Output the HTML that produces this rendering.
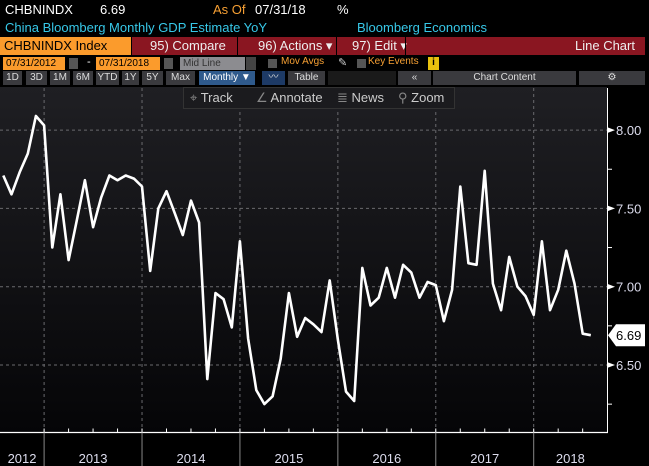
<!DOCTYPE html>
<html><head><meta charset="utf-8">
<style>
*{margin:0;padding:0;box-sizing:border-box}
body{width:649px;height:466px;background:#000;overflow:hidden;font-family:"Liberation Sans",sans-serif;position:relative}
.a{position:absolute;white-space:nowrap}
.t13{font-size:13px}
.btn{position:absolute;top:71px;height:14px;background:#3a3a3e;color:#ddd;font-size:10px;text-align:center;line-height:14px}
</style></head><body>
<div class="a t13" style="left:5px;top:2px;color:#fff">CHBNINDX</div>
<div class="a t13" style="left:100px;top:2px;color:#fff">6.69</div>
<div class="a t13" style="left:213px;top:2px;color:#f7a033">As Of</div>
<div class="a t13" style="left:255px;top:2px;color:#fff">07/31/18</div>
<div class="a t13" style="left:337px;top:2px;color:#fff">%</div>
<div class="a t13" style="left:5px;top:20px;color:#37c8e8">China Bloomberg Monthly GDP Estimate YoY</div>
<div class="a t13" style="left:357px;top:20px;color:#37c8e8">Bloomberg Economics</div>

<div class="a t13" style="left:0;top:37px;width:131px;height:18px;background:#fb9b2c;color:#000;padding-left:4px;line-height:18px">CHBNINDX Index</div>
<div class="a" style="left:132px;top:37px;width:513px;height:18px;background:#8a1621"></div>
<div class="a t13" style="left:150px;top:38px;color:#eee">95) Compare</div>
<div class="a" style="left:237px;top:37px;width:1px;height:18px;background:#000"></div>
<div class="a t13" style="left:258px;top:38px;color:#eee">96) Actions ▾</div>
<div class="a" style="left:336px;top:37px;width:1px;height:18px;background:#000"></div>
<div class="a t13" style="left:352px;top:38px;color:#eee">97) Edit ▾</div>
<div class="a" style="left:405px;top:37px;width:1px;height:18px;background:#000"></div>
<div class="a t13" style="left:575px;top:38px;color:#eee">Line Chart</div>

<div class="a" style="left:3px;top:57px;width:62px;height:13px;background:#fb9b2c;color:#000;font-size:10px;line-height:13px;padding-left:3px">07/31/2012</div>
<div class="a" style="left:69px;top:58px;width:9px;height:11px;background:#555"></div>
<div class="a" style="left:87px;top:56px;color:#fff;font-size:11px">-</div>
<div class="a" style="left:96px;top:57px;width:64px;height:13px;background:#fb9b2c;color:#000;font-size:10px;line-height:13px;padding-left:3px">07/31/2018</div>
<div class="a" style="left:164px;top:58px;width:9px;height:11px;background:#555"></div>
<div class="a" style="left:180px;top:57px;width:65px;height:13px;background:#8c8c90;color:#333;font-size:10px;line-height:13px;padding-left:3px">Mid Line</div>
<div class="a" style="left:246px;top:57px;width:10px;height:13px;background:#444"></div>
<div class="a" style="left:268px;top:59px;width:9px;height:9px;background:#555"></div>
<div class="a" style="left:281px;top:56px;color:#f7a033;font-size:10px">Mov Avgs</div>
<div class="a" style="left:338px;top:56px;color:#ccc;font-size:11px">✎</div>
<div class="a" style="left:357px;top:59px;width:9px;height:9px;background:#555"></div>
<div class="a" style="left:368px;top:56px;color:#f7a033;font-size:10px">Key Events</div>
<div class="a" style="left:428px;top:57px;width:11px;height:13px;background:#e8c20e;color:#000;font-size:10px;text-align:center;font-weight:bold">i</div>

<div class="btn" style="left:3px;width:19px">1D</div>
<div class="btn" style="left:26px;width:21px">3D</div>
<div class="btn" style="left:50px;width:20px">1M</div>
<div class="btn" style="left:73px;width:20px">6M</div>
<div class="btn" style="left:96px;width:23px">YTD</div>
<div class="btn" style="left:122px;width:17px">1Y</div>
<div class="btn" style="left:142px;width:21px">5Y</div>
<div class="btn" style="left:166px;width:29px">Max</div>
<div class="btn" style="left:199px;width:56px;background:#2f5a8c;color:#fff">Monthly ▼</div>
<div class="btn" style="left:262px;width:23px;background:#1d3a66">〰</div>
<div class="btn" style="left:288px;width:37px">Table</div>
<div class="btn" style="left:328px;width:68px;background:#1a1a1a"></div>
<div class="btn" style="left:398px;width:33px">«</div>
<div class="btn" style="left:433px;width:143px">Chart Content</div>
<div class="btn" style="left:579px;width:66px">⚙</div>

<svg class="a" style="left:0;top:0" width="649" height="466" id="chart">
<defs><linearGradient id="bg" x1="0" y1="0" x2="0" y2="1"><stop offset="0" stop-color="#1f1f23"/><stop offset="1" stop-color="#050507"/></linearGradient></defs>
<rect x="0" y="87" width="607" height="346" fill="url(#bg)"/>
<g id="grid"></g><g id="axes"></g>
<path id="line" fill="none" stroke="#fff" stroke-width="2.6" stroke-linejoin="round"/>
<g id="lbl"></g>
</svg>

<div class="a" style="left:183px;top:87px;width:272px;height:22px;background:#1b1b1e;border:1px solid #333"></div>
<div class="a t13" style="left:190px;top:90px;color:#ccc"><span style="color:#888">⌖</span> Track</div>
<div class="a t13" style="left:256px;top:90px;color:#ccc"><span style="color:#888">∠</span> Annotate</div>
<div class="a t13" style="left:337px;top:90px;color:#ccc"><span style="color:#888">≣</span> News</div>
<div class="a t13" style="left:398px;top:90px;color:#ccc"><span style="color:#888">⚲</span> Zoom</div>

<script>
const values=[7.71,7.59,7.73,7.85,8.09,8.03,7.25,7.59,7.17,7.42,7.68,7.38,7.57,7.71,7.68,7.71,7.69,7.64,7.10,7.50,7.61,7.47,7.33,7.55,7.41,6.41,6.96,6.92,6.74,7.29,6.67,6.34,6.25,6.30,6.54,6.96,6.68,6.80,6.76,6.71,7.04,6.66,6.33,6.27,7.12,6.88,6.93,7.12,6.93,7.14,7.09,6.93,7.03,7.01,6.78,6.98,7.64,7.15,7.14,7.74,7.02,6.85,7.19,7.00,6.94,6.82,7.29,6.85,6.98,7.23,7.02,6.70,6.69];
const years=["2012","2013","2014","2015","2016","2017","2018"];
const yTicks=[8.00,7.50,7.00,6.50];
const minorTicks=[7.75,7.25,6.75,6.25];
const lastValue="6.69";
const NS="http://www.w3.org/2000/svg";
const X=i=>3.3+i*8.16;
const Y=v=>286.7-(v-7)*156.6;
const PR=607, AX=432.5;
function mk(t,a,p){const e=document.createElementNS(NS,t);for(const k in a)e.setAttribute(k,a[k]);p.appendChild(e);return e;}
const grid=document.getElementById('grid'),axes=document.getElementById('axes'),lbl=document.getElementById('lbl');
yTicks.forEach(v=>{
 const l=mk('line',{x1:0,x2:PR,y1:Y(v),y2:Y(v),stroke:'#6a6a6e','stroke-dasharray':'3,3','stroke-width':1},grid);
 
 
 mk('path',{d:`M${PR} ${Y(v)-3}L${PR+8} ${Y(v)}L${PR} ${Y(v)+3}Z`,fill:'#fff'},axes);
 const t=mk('text',{x:616,y:Y(v)+5,fill:'#dde','font-size':13,'font-family':'Liberation Sans, sans-serif'},lbl);
 t.textContent=v.toFixed(2);
 
 
});
minorTicks.forEach(v=>mk('line',{x1:PR,x2:PR+5,y1:Y(v),y2:Y(v),stroke:'#fff'},axes));
mk('line',{x1:PR+0.5,x2:PR+0.5,y1:88,y2:AX,stroke:'#fff'},axes);
mk('line',{x1:0,x2:PR+1,y1:AX,y2:AX,stroke:'#fff','stroke-width':1.2},axes);
const bounds=[X(0)-3.3];
for(let k=1;k<years.length;k++){
 const xb=X(5+12*(k-1));bounds.push(xb);
 const g=mk('line',{x1:xb,x2:xb,y1:88,y2:AX,stroke:'#6a6a6e','stroke-dasharray':'3,3'},grid);
 
 
 mk('line',{x1:xb,x2:xb,y1:AX,y2:466,stroke:'#888'},axes);
}
bounds.push(PR);
for(let i=5;i<values.length+2;i+=3){const xm=X(i);if(xm<PR)mk('line',{x1:xm,x2:xm,y1:AX,y2:AX-4,stroke:'#fff'},axes);}
years.forEach((yr,k)=>{
 const t=mk('text',{x:(bounds[k]+bounds[k+1])/2,y:463,fill:'#dde','font-size':13,'text-anchor':'middle','font-family':'Liberation Sans, sans-serif'},lbl);
 t.textContent=yr;
 
 
});
document.getElementById('line').setAttribute('d',values.map((v,i)=>(i?'L':'M')+X(i).toFixed(1)+' '+Y(v).toFixed(1)).join(''));
document.getElementById('line');
const ly=Y(values[values.length-1]);
const bx=mk('path',{d:`M608 ${ly}L616 ${ly-11}L645 ${ly-11}L645 ${ly+11}L616 ${ly+11}Z`,fill:'#fff'},lbl);


const lt=mk('text',{x:616,y:ly+5,fill:'#000','font-size':13,'font-family':'Liberation Sans, sans-serif'},lbl);
lt.textContent=lastValue;


</script>
</body></html>
